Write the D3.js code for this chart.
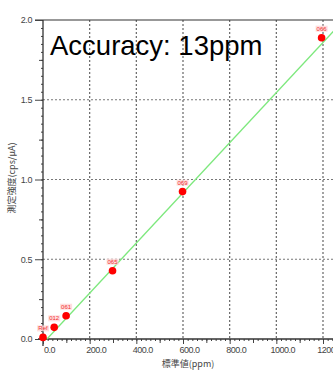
<!DOCTYPE html>
<html>
<head>
<meta charset="utf-8">
<script src="https://cdn.jsdelivr.net/npm/d3@7"></script>
<style>
  body { margin: 0; background: #fff; }
  svg { display: block; }
  .tick text { font-family: "Liberation Sans", Arial, sans-serif; fill: #444; }
</style>
</head>
<body>
<div id="chart"></div>
<script>
// data
const pointNames = ["Ref", "012", "061", "065", "069", "066"];
const stdValues = [0, 48, 99, 298, 598, 1194];      // 標準値 (ppm)
const measured = [0.01, 0.073, 0.146, 0.428, 0.924, 1.889]; // 測定強度
const fitX = [17, 1260];
const fitY = [0, 1.953];
const xTicks = [0, 200, 400, 600, 800, 1000, 1200];
const yTicks = [0, 0.5, 1.0, 1.5, 2.0];

const W = 333, H = 370;
const svg = d3.select("#chart").append("svg")
  .attr("width", W).attr("height", H);

const x = d3.scaleLinear().domain([0, 1200]).range([43, 323]);
const y = d3.scaleLinear().domain([0, 2]).range([339, 20]);

// grid lines
svg.append("g").selectAll("line")
  .data(xTicks.slice(1))
  .enter().append("line")
  .attr("x1", d => x(d)).attr("x2", d => x(d))
  .attr("y1", y(2)).attr("y2", y(0))
  .attr("stroke", "#666").attr("stroke-width", 1.2)
  .attr("stroke-dasharray", "2,2");

svg.append("g").selectAll("line")
  .data(yTicks.slice(1, 4))
  .enter().append("line")
  .attr("x1", x(0)).attr("x2", W)
  .attr("y1", d => y(d)).attr("y2", d => y(d))
  .attr("stroke", "#777").attr("stroke-width", 1.2)
  .attr("stroke-dasharray", "2,2");

// top border
svg.append("line")
  .attr("x1", 35).attr("x2", W)
  .attr("y1", y(2)).attr("y2", y(2))
  .attr("stroke", "#333").attr("stroke-width", 1.2);

// y axis: minor, medium, major
const yAxisG = svg.append("g").attr("transform", "translate(" + x(0) + ",0)");
yAxisG.append("g")
  .call(d3.axisLeft(y).tickValues(d3.range(0, 2.001, 0.05)).tickSize(2).tickFormat(""));
yAxisG.append("g")
  .call(d3.axisLeft(y).tickValues([0.25, 0.75, 1.25, 1.75]).tickSize(4).tickFormat(""));
yAxisG.append("g")
  .call(d3.axisLeft(y).tickValues(yTicks).tickSize(8).tickPadding(3).tickFormat(d3.format(".1f")));
yAxisG.selectAll("text").attr("font-size", 9).attr("letter-spacing", -0.4);
yAxisG.selectAll("path").attr("stroke", "none");
yAxisG.selectAll("line").attr("stroke", "#444");
yAxisG.append("line")
  .attr("x1", 0).attr("x2", 0).attr("y1", y(2)).attr("y2", 346)
  .attr("stroke", "#333").attr("stroke-width", 1.3);

// x axis: minor, medium, major
const xAxisG = svg.append("g").attr("transform", "translate(0," + y(0) + ")");
xAxisG.append("g")
  .call(d3.axisBottom(x).tickValues(d3.range(0, 1241, 20)).tickSize(2).tickFormat(""));
xAxisG.append("g")
  .call(d3.axisBottom(x).tickValues(d3.range(100, 1241, 200)).tickSize(4).tickFormat(""));
xAxisG.append("g")
  .call(d3.axisBottom(x).tickValues(xTicks).tickSize(5).tickPadding(3).tickFormat(d3.format(".1f")));
xAxisG.selectAll("text").attr("font-size", 9).attr("letter-spacing", -0.5).attr("dx", 6);
xAxisG.selectAll("path").attr("stroke", "none");
xAxisG.selectAll("line").attr("stroke", "#444");
xAxisG.append("line")
  .attr("x1", 38).attr("x2", W).attr("y1", 0).attr("y2", 0)
  .attr("stroke", "#333").attr("stroke-width", 1.3);

// axis titles
svg.append("text")
  .attr("x", 188).attr("y", 367)
  .attr("text-anchor", "middle")
  .attr("font-family", "'Noto Sans CJK JP', sans-serif")
  .attr("font-size", 9).attr("fill", "#444")
  .text("標準値(ppm)");

svg.append("text")
  .attr("transform", "translate(15,178) rotate(-90)")
  .attr("text-anchor", "middle")
  .attr("font-family", "'Noto Sans CJK JP', sans-serif")
  .attr("font-size", 9).attr("fill", "#444")
  .text("測定強度(cps/μA)");

// fitted line
svg.append("line")
  .attr("x1", x(fitX[0])).attr("y1", y(fitY[0]))
  .attr("x2", x(fitX[1])).attr("y2", y(fitY[1]))
  .attr("stroke", "#7de87d").attr("stroke-width", 1.3);

// points
const pts = stdValues.map((v, i) => ({ x: v, y: measured[i], name: pointNames[i] }));
const dots = svg.append("g");
dots.selectAll("rect")
  .data(pts).enter().append("rect")
  .attr("x", d => x(d.x) - 6).attr("y", d => y(d.y) - 12)
  .attr("width", 12).attr("height", 6)
  .attr("fill", "#ffd6d6").attr("opacity", 0.8);
dots.selectAll("text")
  .data(pts).enter().append("text")
  .attr("x", d => x(d.x)).attr("y", d => y(d.y) - 7)
  .attr("text-anchor", "middle")
  .attr("font-family", "'Liberation Sans', Arial, sans-serif")
  .attr("font-size", 6).attr("fill", "#f03030")
  .text(d => d.name);
dots.selectAll("circle")
  .data(pts).enter().append("circle")
  .attr("cx", d => x(d.x)).attr("cy", d => y(d.y))
  .attr("r", 3.8)
  .style("fill", "#ff0000");

// accuracy note
svg.append("text")
  .attr("x", 50).attr("y", 55)
  .attr("font-family", "'Liberation Sans', Arial, sans-serif")
  .attr("font-size", 27.5).attr("fill", "#000")
  .text("Accuracy: 13ppm");
</script>
</body>
</html>
